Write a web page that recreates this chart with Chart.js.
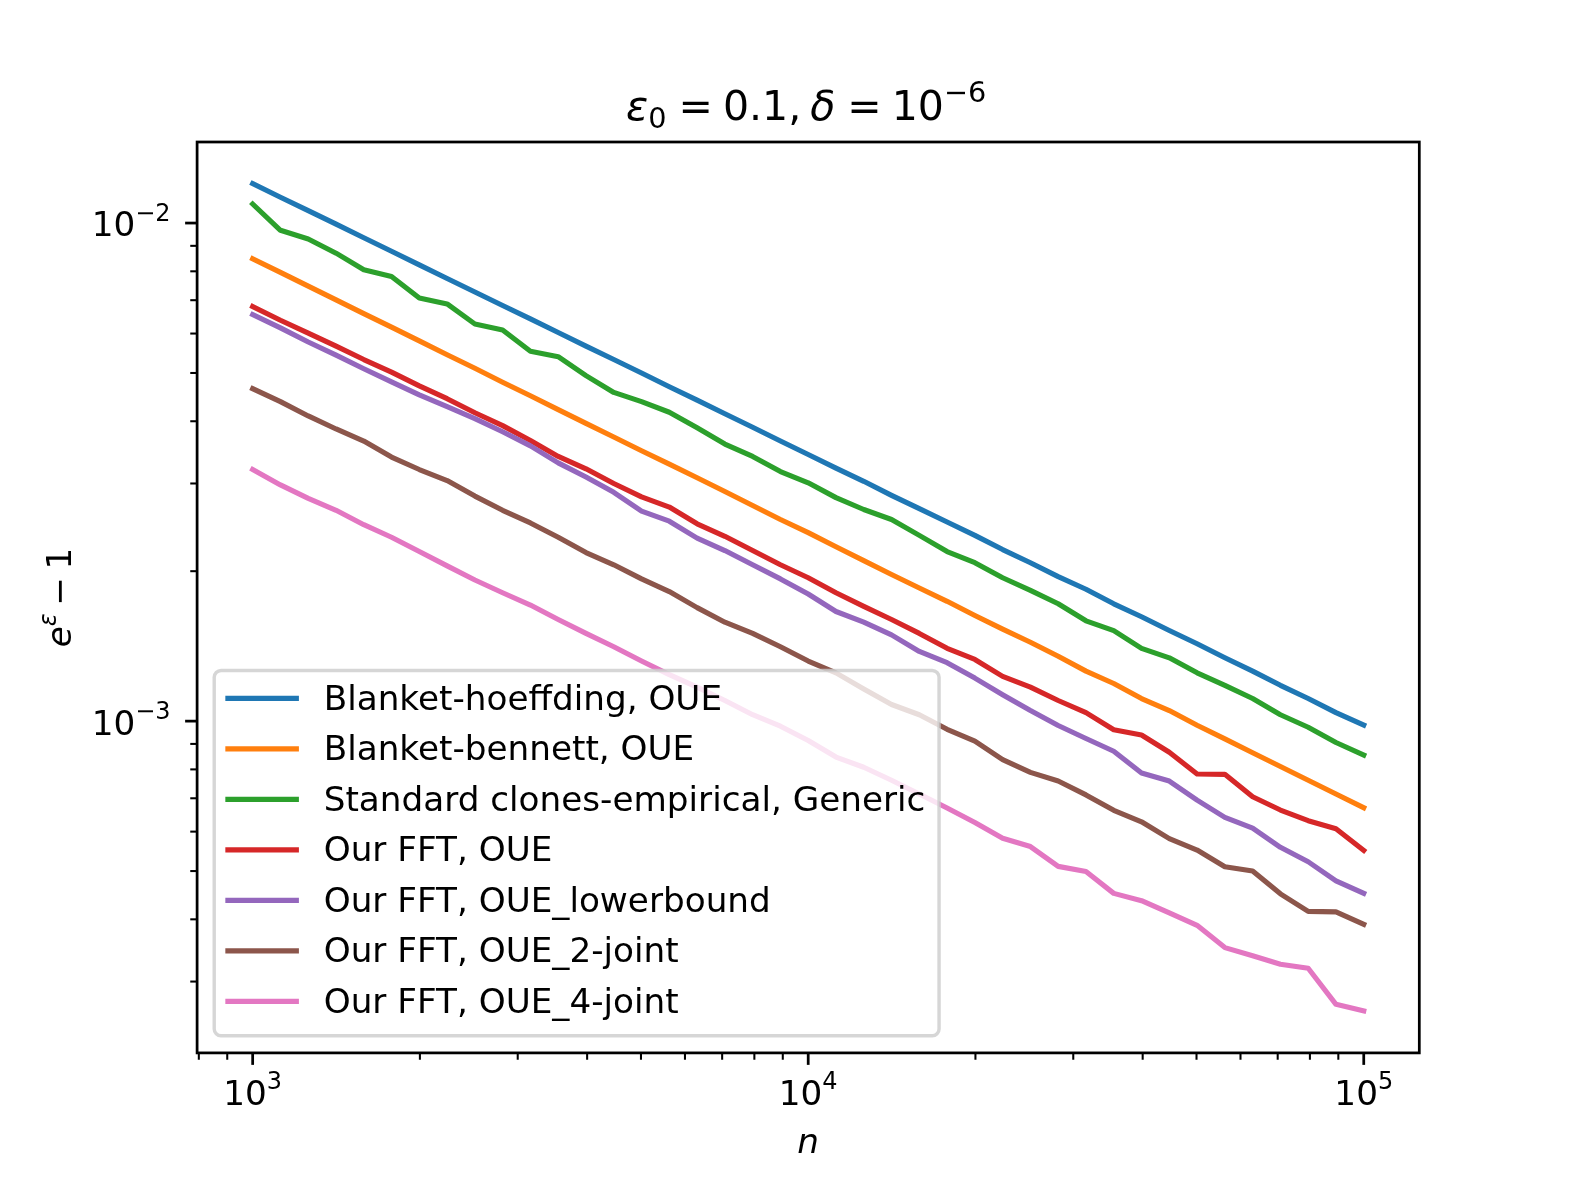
<!DOCTYPE html>
<html>
<head>
<meta charset="utf-8">
<script src="https://cdn.jsdelivr.net/npm/chart.js@4.4.0/dist/chart.umd.min.js"></script>
<style>
html, body { margin: 0; padding: 0; background: #ffffff; }
#wrap { width: 1577px; height: 1183px; }
</style>
</head>
<body>
<div id="wrap"><canvas id="c" width="1577" height="1183"></canvas></div>
<script>
// ---- data ----
const nValues = [1000, 1122, 1259, 1413, 1585, 1778, 1995, 2239, 2512, 2818, 3162, 3548, 3981, 4467, 5012, 5623, 6310, 7079, 7943, 8913, 10000, 11220, 12589, 14125, 15849, 17783, 19953, 22387, 25119, 28184, 31623, 35481, 39811, 44668, 50119, 56234, 63096, 70795, 79433, 89125, 100000];

const blanketHoeffding = [0.01200, 0.01127, 0.01059, 0.00995, 0.00934, 0.00878, 0.00824, 0.00774, 0.00727, 0.00683, 0.00642, 0.00603, 0.00566, 0.00532, 0.00500, 0.00469, 0.00441, 0.00414, 0.00389, 0.00365, 0.00343, 0.00322, 0.00303, 0.00284, 0.00267, 0.00251, 0.00236, 0.00221, 0.00208, 0.00195, 0.00184, 0.00172, 0.00162, 0.00152, 0.00143, 0.00134, 0.00126, 0.00118, 0.00111, 0.00104, 0.000982];

const blanketBennett = [0.00848, 0.00796, 0.00747, 0.00701, 0.00658, 0.00618, 0.00580, 0.00544, 0.00511, 0.00479, 0.00450, 0.00422, 0.00396, 0.00372, 0.00349, 0.00328, 0.00308, 0.00289, 0.00271, 0.00254, 0.00239, 0.00224, 0.00210, 0.00197, 0.00185, 0.00174, 0.00163, 0.00153, 0.00144, 0.00135, 0.00126, 0.00119, 0.00111, 0.00105, 0.000981, 0.000921, 0.000864, 0.000811, 0.000761, 0.000714, 0.000670];

const standardClones = [0.01092, 0.00967, 0.00929, 0.00870, 0.00806, 0.00781, 0.00707, 0.00688, 0.00627, 0.00610, 0.00553, 0.00539, 0.00494, 0.00457, 0.00438, 0.00417, 0.00388, 0.00360, 0.00340, 0.00317, 0.00301, 0.00281, 0.00266, 0.00254, 0.00236, 0.00219, 0.00208, 0.00194, 0.00183, 0.00172, 0.00159, 0.00152, 0.00140, 0.00134, 0.00125, 0.00118, 0.00111, 0.00103, 0.000972, 0.000906, 0.000855];

const fftOUE = [0.00680, 0.00638, 0.00601, 0.00566, 0.00532, 0.00502, 0.00471, 0.00444, 0.00416, 0.00392, 0.00366, 0.00340, 0.00321, 0.00300, 0.00282, 0.00269, 0.00249, 0.00235, 0.00220, 0.00206, 0.00194, 0.00181, 0.00170, 0.00160, 0.00150, 0.00140, 0.00133, 0.00123, 0.00117, 0.00110, 0.00104, 0.000961, 0.000938, 0.000866, 0.000783, 0.000782, 0.000705, 0.000663, 0.000631, 0.000608, 0.000550];

const fftLowerbound = [0.00655, 0.00616, 0.00577, 0.00543, 0.00510, 0.00480, 0.00452, 0.00428, 0.00405, 0.00381, 0.00357, 0.00330, 0.00309, 0.00288, 0.00264, 0.00252, 0.00233, 0.00220, 0.00206, 0.00193, 0.00180, 0.00166, 0.00158, 0.00149, 0.00138, 0.00131, 0.00122, 0.00113, 0.00105, 0.000980, 0.000923, 0.000870, 0.000787, 0.000758, 0.000694, 0.000641, 0.000610, 0.000558, 0.000522, 0.000478, 0.000451];

const fft2Joint = [0.00465, 0.00438, 0.00410, 0.00386, 0.00365, 0.00339, 0.00320, 0.00304, 0.00283, 0.00265, 0.00250, 0.00234, 0.00218, 0.00206, 0.00193, 0.00182, 0.00169, 0.00158, 0.00150, 0.00141, 0.00132, 0.00125, 0.00116, 0.00108, 0.00103, 0.000963, 0.000912, 0.000837, 0.000789, 0.000758, 0.000711, 0.000662, 0.000628, 0.000581, 0.000551, 0.000510, 0.000500, 0.000450, 0.000415, 0.000414, 0.000391];

const fft4Joint = [0.00320, 0.00298, 0.00280, 0.00265, 0.00248, 0.00234, 0.00219, 0.00205, 0.00192, 0.00181, 0.00171, 0.00160, 0.00150, 0.00141, 0.00132, 0.00124, 0.00117, 0.00110, 0.00103, 0.000977, 0.000914, 0.000847, 0.000808, 0.000761, 0.000714, 0.000669, 0.000626, 0.000582, 0.000560, 0.000511, 0.000499, 0.000451, 0.000436, 0.000412, 0.000389, 0.000351, 0.000338, 0.000325, 0.000319, 0.000270, 0.000262];

const seriesLabels = [
  'Blanket-hoeffding, OUE',
  'Blanket-bennett, OUE',
  'Standard clones-empirical, Generic',
  'Our FFT, OUE',
  'Our FFT, OUE_lowerbound',
  'Our FFT, OUE_2-joint',
  'Our FFT, OUE_4-joint'
];
const seriesValues = [blanketHoeffding, blanketBennett, standardClones, fftOUE, fftLowerbound, fft2Joint, fft4Joint];
const seriesColors = ['#1f77b4', '#ff7f0e', '#2ca02c', '#d62728', '#9467bd', '#8c564b', '#e377c2'];

// axis ticks
const xMajorTicks = [1000, 10000, 100000];
const xMajorExp = ['3', '4', '5'];
const xMinorTicks = [800, 900, 2000, 3000, 4000, 5000, 6000, 7000, 8000, 9000, 20000, 30000, 40000, 50000, 60000, 70000, 80000, 90000];
const yMajorTicks = [0.01, 0.001];
const yMajorExp = ['\u22122', '\u22123'];
const yMinorTicks = [0.0003, 0.0004, 0.0005, 0.0006, 0.0007, 0.0008, 0.0009, 0.002, 0.003, 0.004, 0.005, 0.006, 0.007, 0.008, 0.009];

// axis limits
const xMin = 794.3, xMax = 125893;
const yMin = 0.00021572, yMax = 0.014545;

// ---- styling helpers ----
const PT = 1577 / 6.4 / 72;      // pixels per point
const FS = 10 * PT;              // 10pt font
const FONT = '"DejaVu Sans", "Liberation Sans", sans-serif';

function drawMath(ctx, x, y, base, sup, align, size, italicBase) {
  ctx.font = (italicBase ? 'italic ' : '') + size + 'px ' + FONT;
  const wb = ctx.measureText(base).width;
  const ss = size * 0.7;
  ctx.font = ss + 'px ' + FONT;
  const ws = ctx.measureText(sup).width;
  const total = wb + ws;
  let sx = x;
  if (align === 'right') sx = x - total;
  else if (align === 'center') sx = x - total / 2;
  ctx.textAlign = 'left';
  ctx.textBaseline = 'alphabetic';
  ctx.font = (italicBase ? 'italic ' : '') + size + 'px ' + FONT;
  ctx.fillText(base, sx, y);
  ctx.font = ss + 'px ' + FONT;
  ctx.fillText(sup, sx + wb, y - size * 0.44);
}

function drawFlow(ctx, segs, cx, baseY) {
  // measure
  let total = 0;
  segs.forEach(s => {
    if (s.gap !== undefined) { s.w = s.gap; }
    else { ctx.font = (s.it ? 'italic ' : '') + s.size + 'px ' + FONT; s.w = ctx.measureText(s.t).width; }
    total += s.w;
  });
  let x = cx - total / 2;
  ctx.textAlign = 'left';
  ctx.textBaseline = 'alphabetic';
  segs.forEach(s => {
    if (s.gap === undefined) {
      ctx.font = (s.it ? 'italic ' : '') + s.size + 'px ' + FONT;
      ctx.fillText(s.t, x, baseY + (s.dy || 0));
    }
    x += s.w;
  });
}

const decor = {
  id: 'decor',
  afterDraw(chart) {
    const ctx = chart.ctx;
    const a = chart.chartArea;
    const xs = chart.scales.x, ys = chart.scales.y;
    ctx.save();
    ctx.strokeStyle = '#000000';
    ctx.fillStyle = '#000000';
    ctx.lineCap = 'butt';

    const seg = (x1, y1, x2, y2) => { ctx.beginPath(); ctx.moveTo(x1, y1); ctx.lineTo(x2, y2); ctx.stroke(); };

    // minor ticks
    ctx.lineWidth = 0.6 * PT;
    xMinorTicks.forEach(v => { const p = xs.getPixelForValue(v); if (p >= a.left && p <= a.right) seg(p, a.bottom, p, a.bottom + 2 * PT); });
    yMinorTicks.forEach(v => { const p = ys.getPixelForValue(v); if (p >= a.top && p <= a.bottom) seg(a.left, p, a.left - 2 * PT, p); });
    // major ticks
    ctx.lineWidth = 0.8 * PT;
    xMajorTicks.forEach(v => { const p = xs.getPixelForValue(v); seg(p, a.bottom, p, a.bottom + 3.5 * PT); });
    yMajorTicks.forEach(v => { const p = ys.getPixelForValue(v); seg(a.left, p, a.left - 3.5 * PT, p); });

    // frame
    ctx.lineWidth = 0.8 * PT;
    ctx.lineJoin = 'miter';
    ctx.strokeRect(a.left, a.top, a.right - a.left, a.bottom - a.top);

    // tick labels
    xMajorTicks.forEach((v, i) => {
      const p = xs.getPixelForValue(v);
      drawMath(ctx, p, a.bottom + 51.6, '10', xMajorExp[i], 'center', FS, false);
    });
    yMajorTicks.forEach((v, i) => {
      const p = ys.getPixelForValue(v);
      drawMath(ctx, a.left - 26.6, p + 13.4, '10', yMajorExp[i], 'right', FS, false);
    });

    // x axis title
    ctx.font = 'italic ' + FS + 'px ' + FONT;
    ctx.textAlign = 'center';
    ctx.textBaseline = 'alphabetic';
    ctx.fillText('n', (a.left + a.right) / 2, a.bottom + 100);

    // y axis title (rotated)
    ctx.save();
    ctx.translate(a.left - 125.8, (a.top + a.bottom) / 2);
    ctx.rotate(-Math.PI / 2);
    drawFlow(ctx, [
      { t: 'e', size: FS, it: true },
      { t: '\u03b5', size: FS * 0.7, it: true, dy: -FS * 0.44 },
      { gap: FS * 0.22 },
      { t: '\u2212', size: FS },
      { gap: FS * 0.22 },
      { t: '1', size: FS }
    ], 0, 0);
    ctx.restore();

    // title
    const TS = 12 * PT;
    drawFlow(ctx, [
      { t: '\u03b5', size: TS, it: true },
      { t: '0', size: TS * 0.7, dy: 8.3 },
      { gap: 12 },
      { t: '=', size: TS },
      { gap: 10 },
      { t: '0.1,', size: TS },
      { gap: 9 },
      { t: '\u03b4', size: TS, it: true },
      { gap: 12 },
      { t: '=', size: TS },
      { gap: 10 },
      { t: '10', size: TS },
      { t: '\u22126', size: TS * 0.7, dy: -18 }
    ], (a.left + a.right) / 2 - 2, a.top - 22);

    // legend
    const ds = chart.data.datasets;
    const lx0 = a.left + 0.5 * FS;
    const ly1 = a.bottom - 0.5 * FS;
    const pad = 0.4 * FS;
    const handleLen = 2.0 * FS;
    const textGap = 0.8 * FS;
    const pitch = 50.5;
    ctx.font = FS + 'px ' + FONT;
    let maxW = 0;
    ds.forEach(d => { maxW = Math.max(maxW, ctx.measureText(d.label).width); });
    const textX = lx0 + pad + handleLen + textGap;
    const lx1 = textX + maxW + pad;
    const ly0 = ly1 - 365.3;
    const r = 0.2 * FS;
    ctx.beginPath();
    ctx.moveTo(lx0 + r, ly0);
    ctx.lineTo(lx1 - r, ly0);
    ctx.arcTo(lx1, ly0, lx1, ly0 + r, r);
    ctx.lineTo(lx1, ly1 - r);
    ctx.arcTo(lx1, ly1, lx1 - r, ly1, r);
    ctx.lineTo(lx0 + r, ly1);
    ctx.arcTo(lx0, ly1, lx0, ly1 - r, r);
    ctx.lineTo(lx0, ly0 + r);
    ctx.arcTo(lx0, ly0, lx0 + r, ly0, r);
    ctx.closePath();
    ctx.fillStyle = 'rgba(255,255,255,0.8)';
    ctx.fill();
    ctx.lineWidth = 1.0 * PT;
    ctx.strokeStyle = 'rgba(204,204,204,0.8)';
    ctx.stroke();

    ds.forEach((d, i) => {
      const hy = ly0 + 27.9 + i * pitch;
      ctx.strokeStyle = d.borderColor;
      ctx.lineWidth = 1.5 * PT;
      ctx.lineCap = 'square';
      seg(lx0 + pad, hy, lx0 + pad + handleLen, hy);
      ctx.fillStyle = '#000000';
      ctx.font = FS + 'px ' + FONT;
      ctx.textAlign = 'left';
      ctx.textBaseline = 'alphabetic';
      ctx.fillText(d.label, textX, hy + 11.6);
    });
    ctx.restore();
  }
};

function build() {
  const datasets = seriesValues.map((vals, i) => ({
    label: seriesLabels[i],
    data: vals.map((v, j) => ({ x: nValues[j], y: v })),
    borderColor: seriesColors[i],
    backgroundColor: seriesColors[i],
    borderWidth: 1.5 * PT,
    pointRadius: 0,
    pointHoverRadius: 0,
    tension: 0,
    fill: false,
    borderCapStyle: 'square',
    borderJoinStyle: 'round',
    order: seriesValues.length - 1 - i
  }));

  new Chart(document.getElementById('c'), {
    type: 'line',
    data: { datasets },
    options: {
      responsive: false,
      maintainAspectRatio: false,
      devicePixelRatio: 1,
      animation: false,
      events: [],
      layout: { padding: { left: 197.1, top: 142, right: 1577 - 1419.3, bottom: 1183 - 1052.9 } },
      plugins: { legend: { display: false }, title: { display: false }, tooltip: { enabled: false } },
      scales: {
        x: { type: 'logarithmic', min: xMin, max: xMax, display: false },
        y: { type: 'logarithmic', min: yMin, max: yMax, display: false }
      }
    },
    plugins: [decor, {
      id: 'bg',
      beforeDraw(chart) {
        const c = chart.ctx;
        c.save(); c.fillStyle = '#ffffff'; c.fillRect(0, 0, chart.width, chart.height); c.restore();
      }
    }]
  });
}

const fontLoads = [
  document.fonts.load(FS + 'px "DejaVu Sans"'),
  document.fonts.load('italic ' + FS + 'px "DejaVu Sans"')
];
Promise.race([Promise.all(fontLoads), new Promise(r => setTimeout(r, 1500))]).then(build, build);
</script>
</body>
</html>
